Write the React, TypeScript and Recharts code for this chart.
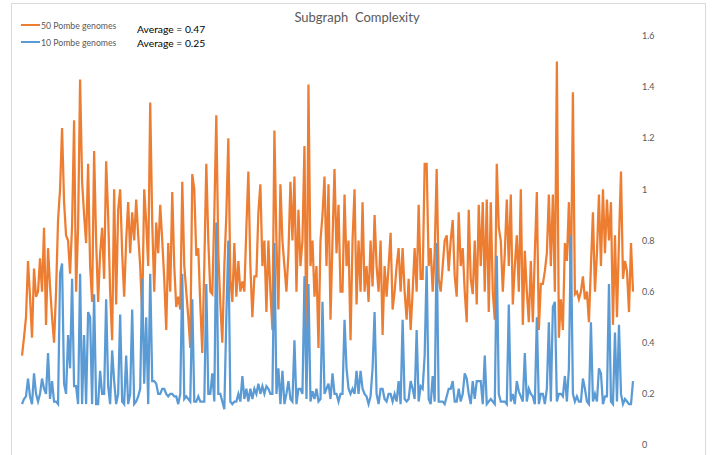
import React from "react";
import { LineChart, Line, XAxis, YAxis } from "recharts";

const seriesNames = ["50 Pombe genomes", "10 Pombe genomes"];
const averageLabels = ["Average = 0.47", "Average = 0.25"];
const chartTitle = "Subgraph  Complexity";
const yTicks = [0, 0.2, 0.4, 0.6, 0.8, 1, 1.2, 1.4, 1.6];

const pombe50 = [
  0.35, 0.42, 0.5, 0.72, 0.58, 0.42, 0.69, 0.58, 0.6, 0.73,
  0.6, 0.85, 0.47, 0.77, 0.62, 0.5, 0.4, 0.6, 0.88, 1.0,
  1.24, 0.95, 0.82, 0.8, 0.67, 0.86, 1.27, 0.6, 0.85, 1.43,
  1.03, 0.9, 0.79, 1.1, 0.7, 0.56, 1.15, 0.8, 0.56, 0.75,
  0.85, 0.65, 1.11, 0.9, 0.6, 0.41, 1.0, 0.55, 0.92, 1.0,
  0.75, 0.58, 0.8, 0.95, 0.75, 0.91, 0.8, 0.96, 0.82, 0.7,
  0.51, 1.0, 0.87, 0.7, 1.34, 0.87, 0.6, 0.87, 0.75, 0.94,
  0.8, 0.65, 0.45, 0.79, 0.6, 0.99, 0.7, 0.54, 0.58, 0.53,
  1.03, 0.7, 0.6, 0.5, 0.38, 1.06, 1.0, 0.74, 0.77, 0.55,
  0.36, 0.7, 1.1, 0.8, 0.6, 0.59, 0.9, 1.29, 0.75, 0.55,
  0.4, 0.7, 0.9, 1.2, 0.65, 0.56, 0.79, 0.58, 0.72, 0.6,
  0.64, 0.6, 0.85, 1.07, 0.7, 0.5, 0.66, 0.66, 0.91, 1.02,
  0.7, 0.8, 0.52, 0.8, 0.6, 0.45, 1.23, 0.8, 0.53, 1.02,
  0.8, 0.7, 0.6, 0.75, 1.03, 0.8, 1.05, 0.6, 0.92, 0.7,
  0.8, 1.17, 0.36, 1.41, 0.7, 0.8, 0.58, 0.7, 0.38, 0.8,
  0.9, 1.05, 0.7, 1.02, 0.49, 0.8, 1.08, 0.75, 0.94, 0.6,
  0.6, 0.98, 0.7, 0.8, 0.41, 0.8, 1.0, 0.55, 0.8, 0.6,
  0.95, 0.6, 0.7, 0.56, 0.8, 0.62, 0.9, 0.7, 0.6, 0.8,
  0.43, 0.7, 0.58, 0.7, 0.83, 0.53, 0.6, 0.7, 0.77, 0.6,
  0.77, 0.6, 0.49, 0.65, 0.45, 0.6, 0.77, 0.6, 0.94, 0.65,
  0.65, 1.1, 1.1, 0.7, 0.77, 0.6, 0.75, 1.08, 0.65, 0.6,
  0.7, 0.8, 0.82, 0.68, 0.8, 0.88, 0.66, 0.58, 0.91, 0.7,
  0.77, 0.6, 0.48, 0.92, 0.65, 0.59, 0.8, 0.55, 0.94, 0.7,
  0.95, 0.6, 0.96, 0.52, 0.95, 0.6, 0.49, 1.1, 0.85, 0.8,
  0.6, 0.75, 0.96, 0.7, 0.98, 0.55, 0.7, 0.82, 0.6, 1.0,
  0.47, 0.76, 0.6, 0.48, 0.72, 0.48, 0.75, 0.99, 0.45, 0.63,
  0.63, 0.68, 0.75, 0.98, 0.7, 0.98, 0.6, 1.5, 0.42, 0.57,
  0.45, 0.79, 0.72, 0.95, 0.6, 1.38, 0.59, 0.6, 0.57, 0.6,
  0.66, 0.57, 0.6, 0.48, 0.7, 0.91, 0.6, 0.75, 0.98, 0.7,
  1.0, 0.75, 0.96, 0.8, 0.95, 0.47, 0.82, 0.5, 0.8, 1.07,
  0.65, 0.72, 0.68, 0.52, 0.79, 0.6,
];

const pombe10 = [
  0.16, 0.18, 0.19, 0.26, 0.19, 0.16, 0.28, 0.2, 0.17, 0.2,
  0.26, 0.22, 0.2, 0.36, 0.18, 0.25, 0.17, 0.17, 0.16, 0.67,
  0.71, 0.24, 0.2, 0.43, 0.3, 0.65, 0.23, 0.23, 0.16, 0.67,
  0.16, 0.43, 0.16, 0.52, 0.5, 0.16, 0.59, 0.16, 0.16, 0.29,
  0.2, 0.2, 0.57, 0.23, 0.16, 0.37, 0.25, 0.16, 0.2, 0.51,
  0.17, 0.16, 0.35, 0.16, 0.2, 0.53, 0.16, 0.17, 0.19, 0.22,
  0.65, 0.24, 0.5, 0.16, 0.67, 0.25, 0.25, 0.24, 0.2, 0.2,
  0.22, 0.22, 0.2, 0.19, 0.2, 0.2, 0.19, 0.19, 0.16, 0.2,
  0.67, 0.18, 0.19, 0.18, 0.17, 0.57, 0.17, 0.17, 0.19, 0.17,
  0.17, 0.17, 0.63, 0.2, 0.2, 0.28, 0.17, 0.87, 0.2, 0.2,
  0.17, 0.14, 0.5, 0.8, 0.17, 0.16, 0.17, 0.17, 0.2, 0.17,
  0.27, 0.18, 0.22, 0.17, 0.22, 0.18, 0.22, 0.2, 0.24, 0.2,
  0.23, 0.2, 0.23, 0.22, 0.2, 0.2, 0.79, 0.2, 0.3, 0.16,
  0.29, 0.16, 0.2, 0.25, 0.18, 0.17, 0.41, 0.16, 0.22, 0.22,
  0.2, 0.66, 0.18, 0.63, 0.17, 0.21, 0.18, 0.22, 0.17, 0.18,
  0.56, 0.2, 0.22, 0.24, 0.18, 0.28, 0.2, 0.2, 0.17, 0.2,
  0.2, 0.49, 0.3, 0.22, 0.2, 0.22, 0.2, 0.29, 0.2, 0.29,
  0.22, 0.2, 0.19, 0.16, 0.19, 0.3, 0.52, 0.2, 0.16, 0.22,
  0.22, 0.18, 0.17, 0.2, 0.2, 0.17, 0.2, 0.17, 0.25, 0.16,
  0.49, 0.18, 0.17, 0.18, 0.25, 0.22, 0.18, 0.45, 0.17, 0.23,
  0.22, 0.35, 0.7, 0.18, 0.16, 0.27, 0.17, 0.79, 0.17, 0.17,
  0.17, 0.16, 0.19, 0.22, 0.22, 0.25, 0.17, 0.17, 0.22, 0.17,
  0.2, 0.28, 0.26, 0.2, 0.16, 0.25, 0.18, 0.25, 0.25, 0.25,
  0.16, 0.35, 0.16, 0.17, 0.18, 0.17, 0.16, 0.74, 0.2, 0.17,
  0.17, 0.17, 0.16, 0.55, 0.17, 0.2, 0.16, 0.25, 0.21, 0.19,
  0.17, 0.36, 0.17, 0.22, 0.2, 0.19, 0.16, 0.5, 0.16, 0.2,
  0.2, 0.16, 0.22, 0.48, 0.17, 0.54, 0.56, 0.17, 0.2, 0.2,
  0.19, 0.27, 0.17, 0.3, 0.82, 0.2, 0.17, 0.19, 0.17, 0.17,
  0.26, 0.22, 0.17, 0.16, 0.48, 0.17, 0.2, 0.17, 0.3, 0.28,
  0.16, 0.19, 0.19, 0.63, 0.17, 0.16, 0.44, 0.17, 0.47, 0.2,
  0.16, 0.18, 0.17, 0.16, 0.16, 0.25,
];

const ORANGE = "#ED7D31";
const BLUE = "#5B9BD5";
const FONT = "Lato, 'Open Sans', 'Liberation Sans', sans-serif";

const data = pombe50.map((v, i) => ({ i, a: v, b: pombe10[i] }));
const lastIndex = data.length - 1;

const fmt = (v: number) => String(Math.round(v * 10) / 10);

export default function App() {
  return (
    <div
      style={{
        position: "absolute",
        left: 0,
        top: 0,
        width: 723,
        height: 455,
        background: "#fff",
        overflow: "hidden",
        fontFamily: FONT,
      }}
    >
      <div
        style={{
          position: "absolute",
          left: 11,
          top: 3,
          width: 693,
          height: 470,
          border: "1px solid #d9d9d9",
        }}
      />
      <div style={{ position: "absolute", left: 0, top: 0 }}>
        <LineChart
          width={723}
          height={455}
          data={data}
          margin={{ top: 36, right: 30, bottom: 10, left: 22 }}
        >
          <XAxis dataKey="i" type="number" domain={[0, lastIndex]} hide />
          <YAxis
            orientation="right"
            width={60}
            domain={[0, 1.6]}
            ticks={yTicks}
            tickFormatter={fmt}
            axisLine={false}
            tickLine={false}
            tickSize={0}
            tickMargin={9}
            tick={{ fill: "#595959", fontSize: 9, fontFamily: FONT, textAnchor: "start" }}
            interval={0}
          />
          <Line
            dataKey="a"
            name={seriesNames[0]}
            stroke={ORANGE}
            strokeWidth={2.25}
            dot={false}
            type="linear"
            isAnimationActive={false}
          />
          <Line
            dataKey="b"
            name={seriesNames[1]}
            stroke={BLUE}
            strokeWidth={2.25}
            dot={false}
            type="linear"
            isAnimationActive={false}
          />
        </LineChart>
      </div>
      <div
        style={{
          position: "absolute",
          left: 0,
          width: 714,
          top: 9,
          textAlign: "center",
          fontSize: 13,
          color: "#595959",
          whiteSpace: "pre",
        }}
      >
        {chartTitle}
      </div>
      {[0, 1].map((k) => (
        <div
          key={k}
          style={{
            position: "absolute",
            left: 21,
            top: k === 0 ? 19 : 36,
            height: 12,
            display: "flex",
            alignItems: "center",
            fontSize: 8.7,
            color: "#595959",
            whiteSpace: "nowrap",
          }}
        >
          <span
            style={{
              display: "inline-block",
              width: 19,
              height: 2.5,
              background: k === 0 ? ORANGE : BLUE,
              marginRight: 1,
            }}
          />
          {seriesNames[k]}
        </div>
      ))}
      {[0, 1].map((k) => (
        <div
          key={"avg" + k}
          style={{
            position: "absolute",
            left: 137,
            top: k === 0 ? 21 : 35,
            fontSize: 10.3,
            color: "#000",
            whiteSpace: "nowrap",
            lineHeight: "16px",
          }}
        >
          {averageLabels[k]}
        </div>
      ))}
    </div>
  );
}
